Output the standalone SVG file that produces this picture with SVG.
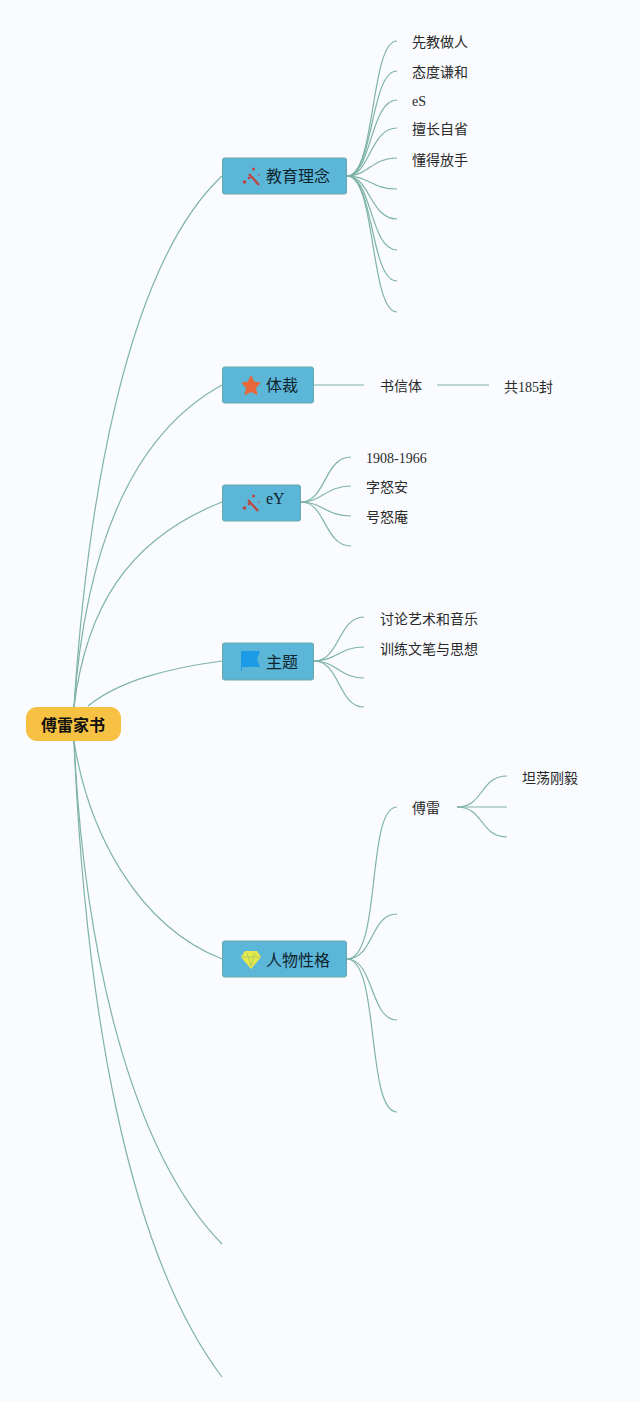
<svg xmlns="http://www.w3.org/2000/svg" width="640" height="1402" viewBox="0 0 640 1402">
<style>
text{font-family:"Liberation Serif","Noto Sans CJK SC",serif;fill:#2a2a2a;font-size:14px}
.m{font-size:16px;fill:#10242e}
.r{font-size:16px;font-weight:bold;fill:#111}
.n{fill:#5cb6d8;stroke:#6aa8a8;stroke-width:1}
#connectors path{fill:none;stroke:#7fb3a8;stroke-width:1.2}
.w{stroke:#c0443c;stroke-width:2.200;fill:none}
.d{fill:#c0443c}
</style>
<rect width="640" height="1402" fill="#f9fbff"/>
<g id="connectors">
<path d="M74 707C86 520 122 270 222 176"/>
<path d="M74 707C84 570 122 440 222 385"/>
<path d="M74 707C86 610 126 540 222 502"/>
<path d="M88 706C120 680 170 668 222 661"/>
<path d="M74 741C88 830 136 925 222 959"/>
<path d="M74 741C84 950 130 1150 222 1244"/>
<path d="M74 741C85 1000 126 1250 222 1377"/>
<path d="M347 176C376 176 370 41 397 41"/>
<path d="M347 176C374 176 370 71 397 71"/>
<path d="M347 176C372 176 370 100 397 100"/>
<path d="M347 176C370 176 370 128 397 128"/>
<path d="M347 176C368 176 372 158 397 158"/>
<path d="M347 176C368 176 372 189 397 189"/>
<path d="M347 176C370 176 370 219 397 219"/>
<path d="M347 176C372 176 370 250 397 250"/>
<path d="M347 176C374 176 370 281 397 281"/>
<path d="M347 176C376 176 370 312 397 312"/>
<path d="M314 385H364"/>
<path d="M437 385H489"/>
<path d="M301 502C326 502 324 457 351 457"/>
<path d="M301 502C322 502 326 486 351 486"/>
<path d="M301 502C322 502 326 516 351 516"/>
<path d="M301 502C326 502 324 546 351 546"/>
<path d="M314 661C340 661 338 617 364 617"/>
<path d="M314 661C336 661 340 647 364 647"/>
<path d="M314 661C336 661 340 678 364 678"/>
<path d="M314 661C340 661 338 707 364 707"/>
<path d="M347 959C382 959 366 807 397 807"/>
<path d="M347 959C374 959 370 914 397 914"/>
<path d="M347 959C374 959 370 1020 397 1020"/>
<path d="M347 959C380 959 366 1112 397 1112"/>
<path d="M457 807C484 807 480 776 507 776"/>
<path d="M457 807H507"/>
<path d="M457 807C484 807 480 837 507 837"/>
</g>
<g id="root"><rect x="26" y="707" width="95" height="34" rx="11" fill="#f7c244"/><text class="r" x="41" y="731">傅雷家书</text></g>
<g id="n1"><rect class="n" x="222.500" y="158" width="124" height="36" rx="2"/>
<path class="w" d="M249 174L259 185"/><circle class="d" cx="244.500" cy="182" r="1.800"/><circle class="d" cx="249" cy="178" r="1.300"/><circle class="d" cx="253.500" cy="169" r="1.500"/><circle class="d" cx="259" cy="175" r="0.800"/>
<text class="m" x="266" y="182">教育理念</text></g>
<g id="n2"><rect class="n" x="222.500" y="367" width="91" height="36" rx="2"/>
<polygon points="251,376 254,382 260,383 255.500,388 257,394.500 251,391.500 245,394.500 246.500,388 242,383 248,382" fill="#e8673a" stroke="#e8673a" stroke-linejoin="round"/>
<text class="m" x="266" y="391">体裁</text></g>
<g id="n3"><rect class="n" x="222.500" y="485" width="78" height="36" rx="2"/>
<path class="w" d="M248 500L258 511"/><circle class="d" cx="244.500" cy="508" r="1.800"/><circle class="d" cx="249" cy="504" r="1.300"/><circle class="d" cx="253.500" cy="496" r="1.500"/><circle class="d" cx="259" cy="502" r="0.800"/>
<text class="m" x="266" y="504">eY</text></g>
<g id="n4"><rect class="n" x="222.500" y="643" width="91" height="37" rx="2"/>
<path d="M241 651H260L257 659L260 667H242V671H241Z" fill="#1c9be6"/>
<text class="m" x="266" y="668">主题</text></g>
<g id="n5"><rect class="n" x="222.500" y="941" width="124" height="36" rx="2"/>
<path d="M245 951H257L261 957L251 969L241 957Z" fill="#e6e84a"/><path d="M247 953L251 966L255 953M242 957H260" stroke="#9cc86a" stroke-width="0.800" fill="none"/>
<text class="m" x="266" y="966">人物性格</text></g>
<g id="t1"><text x="412" y="47">先教做人</text></g>
<g id="t2"><text x="412" y="77">态度谦和</text></g>
<g id="t3"><text x="412" y="106">eS</text></g>
<g id="t4"><text x="412" y="134">擅长自省</text></g>
<g id="t5"><text x="412" y="165">懂得放手</text></g>
<g id="t6"><text x="380" y="391">书信体</text></g>
<g id="t7"><text x="504" y="392">共185封</text></g>
<g id="t8"><text x="366" y="463">1908-1966</text></g>
<g id="t9"><text x="366" y="492">字怒安</text></g>
<g id="t10"><text x="366" y="522">号怒庵</text></g>
<g id="t11"><text x="380" y="624">讨论艺术和音乐</text></g>
<g id="t12"><text x="380" y="654">训练文笔与思想</text></g>
<g id="t13"><text x="412" y="813">傅雷</text></g>
<g id="t14"><text x="522" y="783">坦荡刚毅</text></g>
</svg>
